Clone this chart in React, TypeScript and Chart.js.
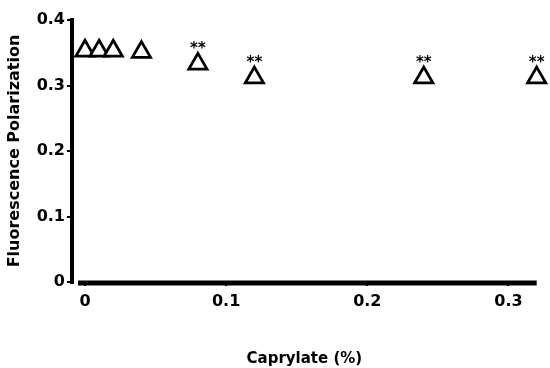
import React, { useEffect, useRef } from "react";
import { Chart, registerables } from "chart.js";

Chart.register(...registerables);

const caprylate = [0, 0.01, 0.02, 0.04, 0.08, 0.12, 0.24, 0.32];
const polarization = [0.353, 0.353, 0.353, 0.351, 0.333, 0.312, 0.312, 0.312];
const significant = [false, false, false, false, true, true, true, true];
const yTicks = [0, 0.1, 0.2, 0.3, 0.4];
const xTicks = [0, 0.1, 0.2, 0.3];

const FONT = "'DejaVu Sans', sans-serif";

const overlay = {
  id: "overlay",
  afterDatasetsDraw(chart: any) {
    const { ctx, chartArea, scales } = chart;
    const xs = scales.x;
    const ys = scales.y;
    ctx.save();
    ctx.strokeStyle = "#000";
    ctx.lineCap = "butt";
    // y axis line
    ctx.lineWidth = 4;
    ctx.beginPath();
    ctx.moveTo(chartArea.left, ys.getPixelForValue(0.4) - 2);
    ctx.lineTo(chartArea.left, ys.getPixelForValue(0) + 2);
    ctx.stroke();
    // x axis line
    ctx.lineWidth = 5;
    ctx.beginPath();
    ctx.moveTo(chartArea.left + 6, chartArea.bottom + 1);
    ctx.lineTo(chartArea.right, chartArea.bottom + 1);
    ctx.stroke();
    // significance stars
    ctx.fillStyle = "#000";
    ctx.font = `bold 15px ${FONT}`;
    ctx.textAlign = "center";
    ctx.textBaseline = "alphabetic";
    caprylate.forEach((c, i) => {
      if (!significant[i]) return;
      const px = xs.getPixelForValue(c);
      const py = ys.getPixelForValue(polarization[i]);
      ctx.fillText("**", px, py - 11);
    });
    ctx.restore();
  },
};

export default function App() {
  const ref = useRef<HTMLCanvasElement>(null);
  useEffect(() => {
    if (!ref.current) return;
    const chart = new Chart(ref.current, {
      type: "scatter",
      data: {
        datasets: [
          {
            data: caprylate.map((c, i) => ({ x: c, y: polarization[i] })),
            pointStyle: "triangle",
            pointRadius: 10.5,
            pointBorderWidth: 2.8,
            pointBorderColor: "#000",
            pointBackgroundColor: "#fff",
            showLine: false,
            clip: false,
          },
        ],
      },
      options: {
        responsive: false,
        animation: false,
        layout: { padding: { top: 20, right: 12, left: 0, bottom: 0 } },
        plugins: { legend: { display: false }, tooltip: { enabled: false } },
        scales: {
          x: {
            type: "linear",
            min: -0.0092,
            max: 0.32,
            afterBuildTicks: (s: any) => {
              s.ticks = xTicks.map((v) => ({ value: v }));
            },
            afterFit: (s: any) => {
              s.height = 86;
            },
            border: { display: false },
            grid: {
              drawOnChartArea: false,
              drawTicks: true,
              tickLength: 4,
              color: "#000",
              lineWidth: 2,
            },
            ticks: {
              color: "#000",
              font: { family: FONT, size: 16, weight: "bold" },
              padding: 6,
              maxRotation: 0,
              callback: (v: any) => String(v),
            },
            title: {
              display: true,
              text: "Caprylate (%)",
              color: "#000",
              font: { family: FONT, size: 15, weight: "bold" },
              padding: { top: 18, bottom: 0 },
            },
          },
          y: {
            type: "linear",
            min: 0,
            max: 0.4,
            afterBuildTicks: (s: any) => {
              s.ticks = yTicks.map((v) => ({ value: v }));
            },
            afterFit: (s: any) => {
              s.width = 72;
            },
            border: { display: false },
            grid: {
              drawOnChartArea: false,
              drawTicks: true,
              tickLength: 5,
              color: "#000",
              lineWidth: 2,
            },
            ticks: {
              color: "#000",
              font: { family: FONT, size: 16, weight: "bold" },
              padding: 2,
              callback: (v: any) => String(v),
            },
            title: {
              display: true,
              text: "Fluorescence Polarization",
              color: "#000",
              font: { family: FONT, size: 16, weight: "bold" },
              padding: { top: 5, bottom: 0 },
            },
          },
        },
      },
      plugins: [overlay],
    });
    return () => chart.destroy();
  }, []);
  return (
    <div style={{ position: "fixed", left: 0, top: 0, width: 550, height: 368, background: "#fff" }}>
      <canvas ref={ref} width={550} height={368} />
    </div>
  );
}
